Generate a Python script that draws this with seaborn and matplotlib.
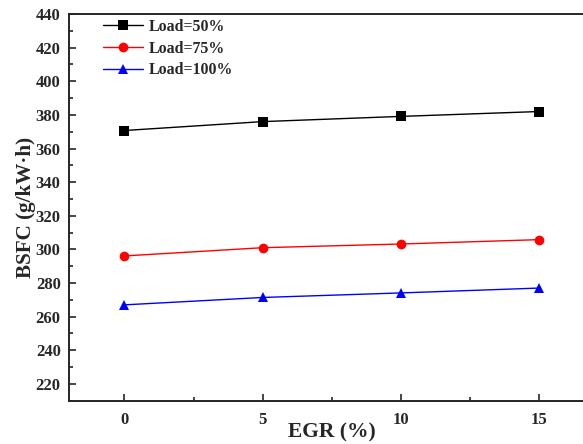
import matplotlib
matplotlib.use("Agg")
import matplotlib.pyplot as plt
import seaborn as sns
import pandas as pd
from matplotlib.ticker import MultipleLocator

egr = [0, 5, 10, 15]
load50 = [370.7, 376.0, 379.1, 382.0]
load75 = [296.1, 301.0, 303.2, 305.8]
load100 = [267.0, 271.4, 274.1, 277.0]
labels = ["Load=50%", "Load=75%", "Load=100%"]

sns.set_style("ticks")
plt.rcParams['font.family'] = ['Liberation Serif', 'DejaVu Serif']
plt.rcParams['font.weight'] = 'bold'

fig = plt.figure(figsize=(5.83, 4.44), dpi=100)
ax = fig.add_axes([69/583, 43.3/444, 525.7/583, 386.7/444])

series = [(load50, "black", "s"), (load75, "red", "o"), (load100, "blue", "^")]
for (vals, col, mk), lab in zip(series, labels):
    df = pd.DataFrame({"EGR": egr, "BSFC": vals})
    sns.lineplot(data=df, x="EGR", y="BSFC", ax=ax, color=col, marker=mk,
                 markersize=7, markeredgewidth=0, linewidth=1.0, label=lab)

ax.set_xlim(-2, 17)
ax.set_ylim(210, 440)
ax.xaxis.set_major_locator(MultipleLocator(5))
ax.xaxis.set_minor_locator(MultipleLocator(2.5))
ax.yaxis.set_major_locator(MultipleLocator(20))
ax.yaxis.set_minor_locator(MultipleLocator(10))
ax.tick_params(which='both', direction='in', width=1.2, labelsize=12)
ax.tick_params(which='major', length=5)
ax.tick_params(which='minor', length=3)
ax.tick_params(axis='x', which='major', pad=8)
ax.tick_params(axis='y', which='major', pad=6)
for lbl in ax.get_xticklabels() + ax.get_yticklabels():
    lbl.set_fontweight('bold')
for s in ax.spines.values():
    s.set_linewidth(1.4)

ax.set_xlabel("EGR (%)", fontsize=15.5, fontweight='bold', labelpad=-4)
ax.set_ylabel("BSFC (g/kW·h)", fontsize=15.2, fontweight='bold', labelpad=0)

leg = ax.legend(loc='upper left', bbox_to_anchor=(0.0647, 0.987), frameon=False,
                prop={'family': 'Liberation Serif', 'weight': 'bold', 'size': 11.4},
                handlelength=2.5, handletextpad=0.4, labelspacing=0.36,
                borderaxespad=0, borderpad=0)

fig.savefig("out.png", dpi=100)
